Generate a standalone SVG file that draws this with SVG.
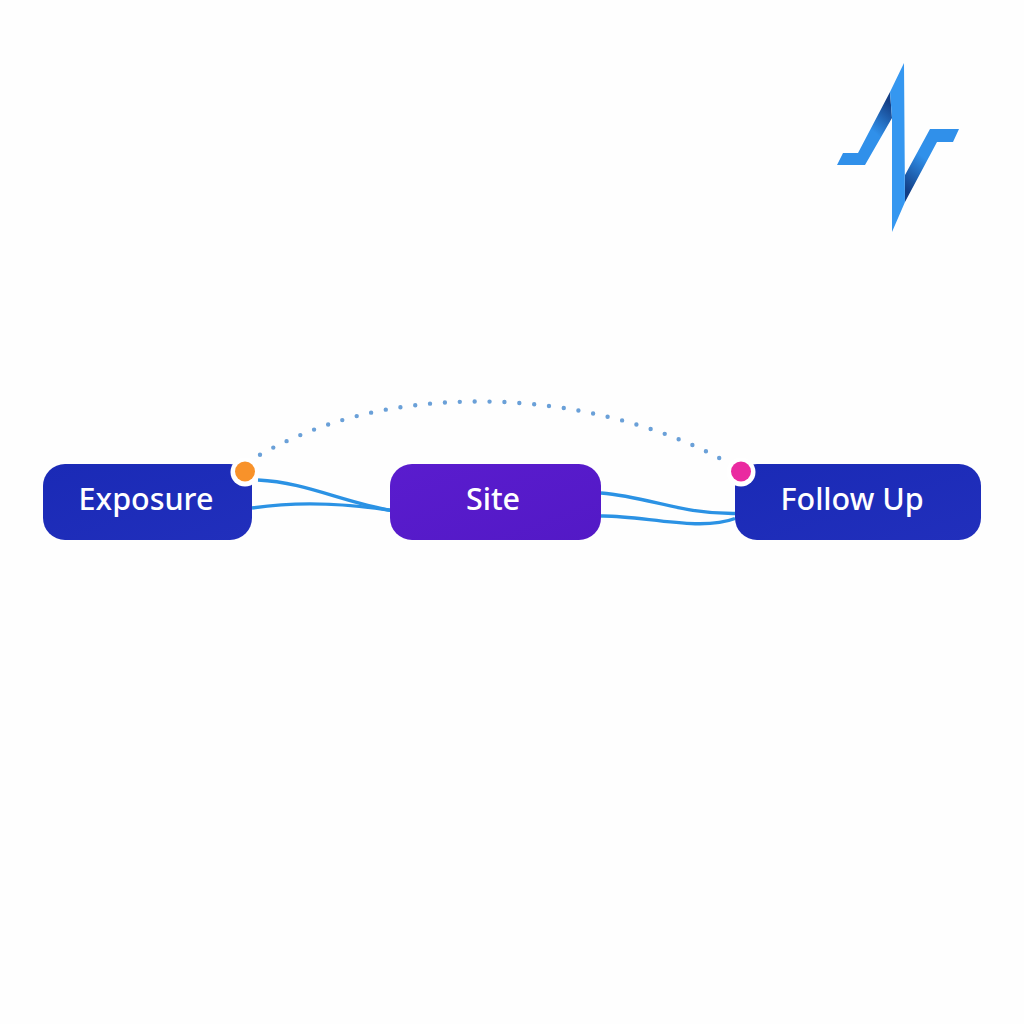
<svg xmlns="http://www.w3.org/2000/svg" width="1024" height="1024" viewBox="0 0 1024 1024">
<style>
.label{font-family:"Noto Sans","Open Sans",sans-serif;font-size:30.5px;font-weight:500;fill:#fff;text-anchor:middle}
.wire{fill:none;stroke:#2b92e4;stroke-width:3.4}
.dots{fill:none;stroke:#6aa0d8;stroke-width:4.4;stroke-linecap:round;stroke-dasharray:0 14.9}
.ring{fill:#fff}
</style>
<defs>
<linearGradient id="blue" x1="0" y1="0" x2="1" y2="1"><stop offset="0" stop-color="#1a2ab6"/><stop offset="1" stop-color="#212fbc"/></linearGradient>
<linearGradient id="purple" x1="0" y1="0" x2="1" y2="1"><stop offset="0" stop-color="#5a1cce"/><stop offset="1" stop-color="#5319c6"/></linearGradient>
<linearGradient id="foldL" gradientUnits="userSpaceOnUse" x1="862" y1="140" x2="892" y2="105"><stop offset="0.3" stop-color="#3090ea"/><stop offset="1" stop-color="#143f86"/></linearGradient>
<linearGradient id="foldR" gradientUnits="userSpaceOnUse" x1="935" y1="150" x2="905" y2="190"><stop offset="0.25" stop-color="#3090ea"/><stop offset="1" stop-color="#123d84"/></linearGradient>
</defs>
<rect width="1024" height="1024" fill="#fefefe"/>
<g id="logo">
<polygon points="837,165 843,153 858,153 890,92 892,118 865,165" fill="url(#foldL)"/>
<polygon points="959,129 953,142 937,142 905,202 905,175 930,129" fill="url(#foldR)"/>
<polygon points="904,63 905,202 892,232 892,118 890,92" fill="#3597f0"/>
</g>
<g id="connectors">
<path class="wire" stroke-width="4" d="M258,480 C305,482 345,503 392,510.5"/>
<path class="wire" d="M252,508 C285,503 330,501 392,510.5"/>
<path class="wire" d="M601,493 C650,497 680,514 735,513.5"/>
<path class="wire" d="M601,516 C640,515 700,532 735,518.5"/>
<path class="dots" d="M260,454.7 C335,413 410,401.5 480,401.5 C570,401.5 660,425 724.7,461"/>
</g>
<g id="node-exposure">
<rect x="43" y="464" width="209" height="76" rx="22" fill="url(#blue)"/>
<text class="label" x="146" y="510">Exposure</text>
</g>
<g id="node-site">
<rect x="390" y="464" width="211" height="76" rx="22" fill="url(#purple)"/>
<text class="label" x="493" y="510">Site</text>
</g>
<g id="node-follow-up">
<rect x="735" y="464" width="246" height="76" rx="22" fill="url(#blue)"/>
<text class="label" x="852" y="510">Follow Up</text>
</g>
<g id="marker-orange">
<circle class="ring" cx="245" cy="472" r="14.5"/>
<circle cx="245" cy="471.5" r="10" fill="#f8922a"/>
</g>
<g id="marker-pink">
<circle class="ring" cx="741" cy="472" r="14.5"/>
<circle cx="741" cy="471.5" r="10" fill="#ea2aa0"/>
</g>
</svg>
